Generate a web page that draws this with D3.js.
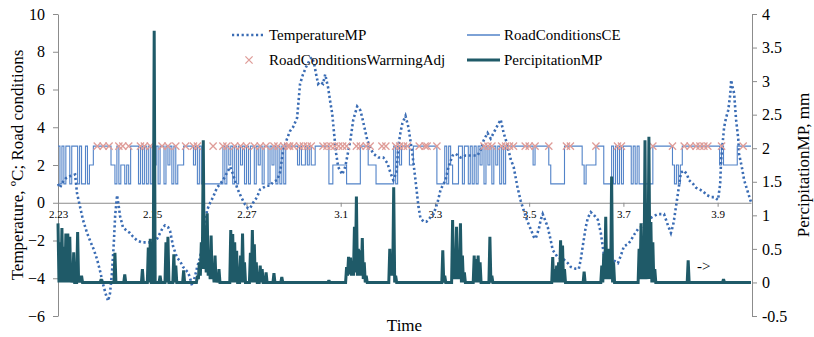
<!DOCTYPE html>
<html>
<head>
<meta charset="utf-8">
<script src="https://cdn.jsdelivr.net/npm/d3@7/dist/d3.min.js"></script>
<style>
  body { margin: 0; background: #fff; }
  svg { display: block; font-family: "Liberation Serif", "Times New Roman", serif; }
</style>
</head>
<body>
<svg id="chart" width="814" height="337"></svg>
<script>
// x axis: hours since 2.23 00:00
const dayLabels = ["2.23", "2.25", "2.27", "3.1", "3.3", "3.5", "3.7", "3.9"];
const dayLabelHours = [0, 48, 96, 144, 192, 240, 288, 336];
const leftTicks = [-6, -4, -2, 0, 2, 4, 6, 8, 10];
const rightTicks = [-0.5, 0, 0.5, 1, 1.5, 2, 2.5, 3, 3.5, 4];

// TemperatureMP, [hour, degC]
const temperatureMP = [
  [0,1.0],[1,0.8],[2.5,1.1],[4,1.3],[6,1.4],[8.7,1.5],[9.7,0.5],[11.2,-0.2],[12.7,-0.9],[14.8,-1.6],
  [16.3,-2.0],[18.3,-2.5],[19.9,-3.0],[21.4,-3.6],[22.9,-4.3],[24.5,-4.9],[25.5,-5.2],[26.5,-4.8],[27.5,-3.7],[28.5,-2.0],
  [29.1,-0.7],[30.1,0.4],[31.1,-0.3],[31.6,-0.7],[33.1,-1.3],[35.2,-1.5],[36.7,-1.6],[38.2,-1.8],[40.3,-2.0],[42.8,-2.1],
  [45.4,-2.1],[48.4,-2.1],[50.5,-1.9],[52,-1.6],[53.5,-1.3],[54.5,-1.2],[56.1,-1.3],[57.1,-1.5],[58.6,-2.3],[60.6,-2.9],
  [62.2,-3.1],[63.7,-3.4],[66.3,-3.7],[67.3,-4.0],[68.3,-4.4],[69.8,-3.9],[70.9,-3.4],[72.4,-2.9],[73.4,-2.3],[74.9,-1.2],
  [75.9,-0.4],[77.5,0.0],[79,0.3],[81,0.8],[82.6,1.0],[84.1,1.2],[86.1,1.6],[87.7,1.9],[89.2,1.5],[91.2,0.8],
  [93.3,0.3],[95.3,-0.1],[96.8,-0.3],[97.8,-0.3],[99.4,0.0],[101.4,0.3],[102.9,0.7],[104.5,0.8],[106.5,0.9],[108,0.9],
  [109.6,1.1],[111.6,1.2],[113.1,1.6],[114.7,2.8],[116.7,3.4],[118.2,3.8],[119.7,4.0],[121.8,4.5],[123.3,6.3],[124.8,6.8],
  [126.4,7.2],[128.4,7.6],[129.4,7.7],[130.4,7.4],[131.5,6.8],[132.5,6.3],[133.5,6.4],[135,6.3],[136.1,6.8],[137.6,6.1],
  [138.6,5.4],[139.7,4.7],[140.7,3.6],[141.7,2.6],[142.7,1.9],[144.8,1.5],[146.3,1.9],[147.8,2.7],[148.9,3.3],[150.4,4.4],
  [152.4,5.1],[154,4.9],[155,4.5],[156.5,3.8],[157.6,3.3],[159.1,2.9],[160.6,2.6],[163.2,2.4],[165.7,2.4],[167.8,2.1],
  [169.3,1.6],[170.8,1.2],[172.4,1.6],[173.4,3.0],[174.4,3.7],[175.4,4.2],[177,4.6],[178.5,4.0],[179.5,3.3],[180.5,2.6],
  [182.1,1.2],[183.6,-0.2],[184.6,-0.8],[186.2,-1.0],[187.7,-1.0],[188.7,-0.9],[190.3,-0.7],[191.3,-0.6],[193.3,0.0],[194.9,0.7],
  [196.4,1.0],[197.4,1.2],[198.9,1.9],[201,2.5],[202.5,2.6],[205,2.4],[207.6,2.5],[210.2,2.5],[213.7,2.5],[215.3,2.8],
  [216.8,3.3],[218.8,3.7],[220.4,3.4],[221.9,3.7],[222.9,3.9],[224.4,4.2],[225.5,4.4],[227,3.7],[228.5,3.2],[230.6,2.3],
  [232.1,1.9],[234.1,0.8],[235.7,0.1],[237.2,-0.4],[239.2,-1.0],[240.8,-1.4],[242.3,-1.8],[243.3,-1.9],[244.9,-1.4],[245.9,-0.9],
  [246.9,-0.6],[248.4,-1.0],[249.5,-1.3],[251,-2.0],[252,-2.5],[254.6,-2.9],[257.6,-3.0],[259.7,-3.2],[261.2,-3.4],[263.7,-3.5],
  [265.3,-3.5],[266.3,-3.0],[267.3,-2.3],[268.8,-1.3],[269.9,-0.8],[271.4,-0.5],[273.4,-0.7],[275,-0.9],[276.5,-1.6],[278,-2.7],
  [280.1,-2.9],[281.6,-3.0],[283.7,-3.1],[285.2,-3.2],[286.7,-2.8],[288.3,-2.3],[290.3,-2.2],[291.8,-2.0],[293.4,-1.7],[295.4,-1.4],
  [296.9,-1.3],[298.5,-1.1],[300.5,-0.9],[302,-0.8],[303.6,-0.7],[305.6,-0.6],[307.1,-0.6],[308.7,-0.6],[309.7,-0.9],[310.7,-1.2],
  [312.2,-1.6],[313.3,-1.2],[313.8,-0.9],[314.8,-0.2],[315.8,0.5],[317.3,1.6],[318.9,1.7],[320.4,1.5],[321.4,1.2],[323.5,1.0],
  [325,0.8],[327,0.7],[328.6,0.6],[330.6,0.4],[332.7,0.3],[334.2,0.3],[336.2,0.15],[337.3,1.0],[337.8,2.3],[339.3,4.0],
  [340.3,4.5],[341.4,4.9],[342.4,5.7],[342.9,6.5],[343.4,6.2],[344.4,5.8],[345.4,4.4],[346.5,3.4],[346.9,2.6],[348.5,1.8],
  [349.5,1.2],[351.6,0.5],[353.1,0.0]
];

// RoadConditionsCE, hourly, one row per day
const roadConditionsCE = [
  3,1,3,1,3,3,1,3, 3,3,1,3,1,1,3,1, 2,2,3,3,3,3,3,3,
  3,3,3,2,2,1,3,1, 2,2,1,2,1,3,3,3, 3,1,3,1,3,1,3,1,
  3,2,3,1,3,3,1,3, 2,3,1,3,1,2,2,2, 3,3,3,3,3,2,3,1,
  3,1,1,1,1,1,1,1, 1,1,1,1,3,1,3,2, 3,1,3,1,3,2,3,1,
  3,1,3,3,1,3,2,3, 1,3,3,1,3,2,3,1, 3,1,3,1,3,3,3,3,
  3,3,2,3,2,2,3,2, 3,2,2,3,3,3,3,3, 3,3,1,1,2,2,2,2,
  2,2,2,1,1,1,1,1, 1,1,3,3,3,3,2,2, 2,2,1,1,1,1,1,1,
  1,1,1,3,1,3,2,3, 3,3,3,2,2,3,3,3, 3,3,3,3,3,3,3,3,
  3,1,1,1,1,3,1,3, 2,1,1,1,3,3,1,3, 3,1,3,1,3,1,3,2,
  3,1,3,2,3,1,3,2, 3,1,3,1,3,3,3,3, 3,3,3,3,3,3,3,3,
  3,3,2,3,3,3,3,3, 3,3,2,1,1,1,1,1, 1,1,3,3,3,3,3,3,
  3,3,3,2,1,2,2,2, 2,2,3,3,3,3,1,1, 1,1,3,1,3,1,3,1,
  3,3,3,3,1,3,1,3, 1,1,1,1,1,1,1,3, 3,3,3,3,3,3,3,3,
  3,2,1,2,1,2,3,3, 3,3,3,3,3,3,3,3, 3,3,3,3,3,3,3,3,
  3,2,3,2,2,2,2,2, 2,2,3,3,3,3,3,3, 3,3
];

// RoadConditionsWarrningAdj: hours with a warning, all at level 3
const warningHours = [
  20,23,26,31,33,36,42,44,47,53,56,60,65,69,71,79,84,86,90,93,96,100,103,106,110,112,
  115,117,118,120,123,125,127,129,135,137,139,141,143,145,147,152,154,157,159,165,167,
  172,174,176,178,184,187,188,193,217,219,221,226,228,230,232,238,240,243,250,259,261,
  274,285,287,303,313,319,322,325,327,329,331,338,349
];
const warningLevel = 3;

// PercipitationMP, [hour, mm], vertices of the line
const percipitationMP = [
  [0,0.88],[0.5,0],[1,0.6],[1.5,0],[2,0.81],[2.5,0],[3,0.53],[3.5,0],[4,0.73],[4.5,0],[5,0.73],[5.5,0],
  [6,0.68],[6.5,0],[7,0.1],[7.5,0],[8,0.45],[8.5,0],[9.5,0],[10,0.75],[10.5,0],[11,0.05],[11.5,0],[12,0.1],[12.5,0],
  [21.5,0],[22,0.05],[22.5,0],
  [28.5,0],[29,0.44],[29.5,0],[33.5,0],[34,0.12],[34.5,0],[42.5,0],[43,0.2],[43.5,0],
  [45.5,0],[46,0.52],[46.5,0],[47,0.65],[47.5,0],
  [48.5,0],[49,3.75],[49.5,0],[51.5,0],[52,0.1],[52.5,0],[54.5,0],[55,0.6],[55.5,0],[56,0.68],[56.5,0],
  [58.5,0],[59,0.42],[59.5,0],[60,0.25],[60.5,0],[63.5,0],[64,0.18],[64.5,0],[70.5,0],[71,0.1],[71.5,0.05],
  [72,0.3],[72.5,0.1],[73,0.6],[73.5,0.2],[74,2.12],[74.5,0.2],[75,0.5],[75.5,0.15],[76,1.03],[76.5,0.1],
  [77,0.45],[77.5,0.05],[78,0.7],[78.5,0.05],[79,0.2],[79.5,0],[80,0.4],[80.5,0],[81,0.12],[81.5,0],[82,0.2],[82.5,0],
  [87.5,0],[88,0.78],[88.5,0],[89,0.72],[89.5,0],[90,0.6],[90.5,0],[91,0.47],[91.5,0],
  [92.5,0],[93,0.4],[93.5,0],[94,0.73],[94.5,0],[95,0.3],[95.5,0],
  [97.5,0],[98,0.44],[98.5,0],[99,0.78],[99.5,0],[100,0.57],[100.5,0],[101,0.3],[101.5,0],
  [102.5,0],[103,0.25],[103.5,0],[104,0.2],[104.5,0],[105.5,0],[106,0.15],[106.5,0],
  [109.5,0],[110,0.14],[110.5,0],[113.5,0],[114,0.08],[114.5,0],
  [137.5,0],[138,0.03],[138.5,0],
  [146.5,0],[147,0.23],[147.5,0.1],[148,0.38],[148.5,0.12],[149,0.37],[149.5,0.1],[150,0.3],[150.5,0.1],
  [151,0.83],[151.5,0.15],[152,1.28],[152.5,0.1],[153,0.5],[153.5,0.1],[154,0.48],[154.5,0.1],
  [155,0.66],[155.5,0.05],[156,0.3],[156.5,0],[157,0.1],[157.5,0],
  [168.5,0],[169,0.5],[169.5,0.1],[170,0.3],[170.5,0.1],[171,1.42],[171.5,0],[172,0.1],[172.5,0],
  [195.5,0],[196,0.48],[196.5,0],[197,0.1],[197.5,0],
  [200.5,0],[201,0.93],[201.5,0.05],[202,0.5],[202.5,0.05],[203,0.83],[203.5,0.05],[204,0.3],[204.5,0.05],
  [205,0.88],[205.5,0],[206,0.4],[206.5,0],[207,0.15],[207.5,0],
  [211.5,0],[212,0.4],[212.5,0],[213,0.35],[213.5,0],[214,0.4],[214.5,0],[215,0.3],[215.5,0],
  [219.5,0],[220,0.68],[220.5,0],[221,0.1],[221.5,0],
  [251.5,0],[252,0.38],[252.5,0],[253,0.2],[253.5,0],[254,0.25],[254.5,0],[255,0.3],[255.5,0],
  [256,0.63],[256.5,0],[257,0.55],[257.5,0],[258,0.2],[258.5,0],
  [267.5,0],[268,0.16],[268.5,0],
  [276.5,0],[277,0.25],[277.5,0],[278,0.43],[278.5,0.05],[279,0.98],[279.5,0.05],[280,0.5],[280.5,0.05],
  [281,0.5],[281.5,0.05],[282,1.58],[282.5,0],[283,0.3],[283.5,0],
  [295.5,0],[296,0.5],[296.5,0.05],[297,0.88],[297.5,0.05],[298,0.3],[298.5,0.05],[299,2.12],[299.5,0.05],
  [300,0.5],[300.5,0.05],[301,2.17],[301.5,0.05],[302,0.9],[302.5,0],[303,0.6],[303.5,0],[304,0.2],[304.5,0],
  [320.5,0],[321,0.33],[321.5,0],
  [338.5,0],[339,0.05],[339.5,0],
  [353,0]
];

const noteText = "->";
const noteHour = 325.5;
const noteValue = 0.17;

const COLORS = {
  temp: "#3a6cb4",
  road: "#5283c8",
  warn: "#df9d99",
  precip: "#1f5a68",
  axis: "#8c8c8c"
};
const FONT = "'Liberation Serif', 'Times New Roman', serif";

const svg = d3.select("#chart");
const x = d3.scaleLinear().domain([0, 353]).range([58, 751]);
const yL = d3.scaleLinear().domain([-6, 10]).range([316, 14]);
const yR = d3.scaleLinear().domain([-0.5, 4]).range([316, 14]);

function styleAxis(g, fontSize) {
  g.attr("font-family", null).attr("font-size", null);
  g.select(".domain").attr("stroke", COLORS.axis);
  g.selectAll(".tick line").attr("stroke", COLORS.axis);
  g.selectAll(".tick text").attr("fill", "#000").attr("font-size", fontSize).style("font-family", FONT);
}

// Axes
svg.append("g")
  .attr("transform", `translate(${x(0)},0)`)
  .call(d3.axisLeft(yL).tickValues(leftTicks).tickSize(5).tickSizeOuter(0).tickPadding(8))
  .call(g => styleAxis(g, 16));

svg.append("g")
  .attr("transform", `translate(${x(353) + 1},0)`)
  .call(d3.axisRight(yR).tickValues(rightTicks).tickSize(5).tickSizeOuter(0).tickPadding(5)
    .tickFormat(d => String(d)))
  .call(g => styleAxis(g, 16));

svg.append("g")
  .attr("transform", `translate(0,${yL(0)})`)
  .call(d3.axisBottom(x).tickValues(dayLabelHours).tickSize(4).tickSizeOuter(0).tickPadding(3)
    .tickFormat((d, i) => dayLabels[i]))
  .call(g => styleAxis(g, 11));

// Axis titles
svg.append("text")
  .attr("transform", `translate(23,${(yL.range()[0] + yL.range()[1]) / 2}) rotate(-90)`)
  .attr("text-anchor", "middle").attr("font-size", 17).style("font-family", FONT)
  .text("Temperature, \u00baC; Road conditions");

svg.append("text")
  .attr("transform", `translate(809,${(yR.range()[0] + yR.range()[1]) / 2}) rotate(-90)`)
  .attr("text-anchor", "middle").attr("font-size", 17).style("font-family", FONT)
  .text("PercipitationMP, mm");

svg.append("text")
  .attr("x", (x.range()[0] + x.range()[1]) / 2).attr("y", 331)
  .attr("text-anchor", "middle").attr("font-size", 17).style("font-family", FONT)
  .text("Time");

// RoadConditionsCE step line
const roadLine = d3.line()
  .x((d, i) => x(i)).y(d => yL(d))
  .curve(d3.curveStepAfter);
svg.append("path")
  .datum(roadConditionsCE)
  .attr("d", roadLine)
  .attr("fill", "none").attr("stroke", COLORS.road).attr("stroke-width", 1.1);

// TemperatureMP dotted line
const tempLine = d3.line().x(d => x(d[0])).y(d => yL(d[1]));
svg.append("path")
  .datum(temperatureMP)
  .attr("d", tempLine)
  .attr("fill", "none").attr("stroke", COLORS.temp)
  .attr("stroke-width", 2.6).attr("stroke-dasharray", "2.2,2.6");

// Warning markers
function cross(sel, size) {
  sel.append("path")
    .attr("d", `M${-size},${-size}L${size},${size}M${-size},${size}L${size},${-size}`)
    .attr("stroke", COLORS.warn).attr("stroke-width", 1.3).attr("fill", "none");
}
svg.append("g").selectAll("g")
  .data(warningHours)
  .enter().append("g")
  .attr("transform", d => `translate(${x(d)},${yL(warningLevel)})`)
  .call(cross, 3.6);

// PercipitationMP thick line on the right axis
const precipLine = d3.line().x(d => x(d[0])).y(d => yR(d[1]));
svg.append("path")
  .datum(percipitationMP)
  .attr("d", precipLine)
  .attr("fill", "none").attr("stroke", COLORS.precip)
  .attr("stroke-width", 3).attr("stroke-linejoin", "miter").attr("stroke-miterlimit", 1.5);

// Annotation
svg.append("text")
  .attr("x", x(noteHour)).attr("y", yR(noteValue))
  .attr("font-size", 15).style("font-family", FONT)
  .text(noteText);

// Legend
const legend = svg.append("g").attr("font-size", 15).style("font-family", FONT);
const legendItems = [
  { name: "TemperatureMP", type: "temp", lx: 232, ly: 35 },
  { name: "RoadConditionsCE", type: "road", lx: 467, ly: 35 },
  { name: "RoadConditionsWarrningAdj", type: "warn", lx: 232, ly: 60 },
  { name: "PercipitationMP", type: "precip", lx: 467, ly: 60 }
];
legendItems.forEach(it => {
  const g = legend.append("g").attr("transform", `translate(${it.lx},${it.ly})`);
  if (it.type === "temp") {
    g.append("line").attr("x1", 0).attr("x2", 31).attr("stroke", COLORS.temp)
      .attr("stroke-width", 2.6).attr("stroke-dasharray", "2.2,2.6");
  } else if (it.type === "road") {
    g.append("line").attr("x1", 0).attr("x2", 33).attr("stroke", COLORS.road).attr("stroke-width", 1.3);
  } else if (it.type === "precip") {
    g.append("line").attr("x1", 0).attr("x2", 33).attr("stroke", COLORS.precip).attr("stroke-width", 3);
  } else {
    g.append("g").attr("transform", "translate(17,0)").call(cross, 3.6);
  }
  g.append("text").attr("x", 37).attr("y", 5).text(it.name);
});
</script>
</body>
</html>
